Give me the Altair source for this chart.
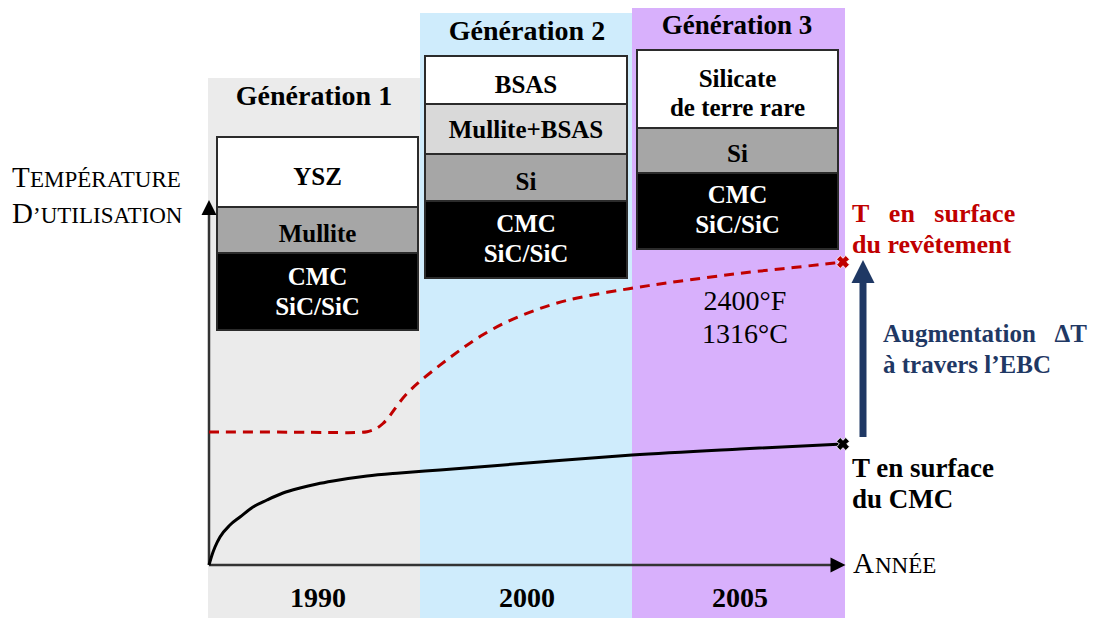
import altair as alt
import pandas as pd

FONT = "Liberation Serif"
NB = "\u00a0"

# ---------------- data ----------------
generations = ["Génération 1", "Génération 2", "Génération 3"]
years = ["1990", "2000", "2005"]
band_colors = ["#ebebeb", "#cfecfc", "#d8b0fc"]

# coating stacks (top -> bottom)
gen1_layers = [["YSZ"], ["Mullite"], ["CMC", "SiC/SiC"]]
gen2_layers = [["BSAS"], ["Mullite+BSAS"], ["Si"], ["CMC", "SiC/SiC"]]
gen3_layers = [["Silicate", "de terre rare"], ["Si"], ["CMC", "SiC/SiC"]]
layer_fill = {"YSZ": "#ffffff", "BSAS": "#ffffff", "Silicate": "#ffffff",
              "Mullite": "#a6a6a6", "Mullite+BSAS": "#d9d9d9", "Si": "#a6a6a6",
              "CMC": "#000000"}

# temperature curves (schematic)
cmc_x = [209, 212, 215, 220, 230, 240, 253, 267, 283, 300, 317, 333, 367, 400, 440, 540, 632, 740, 843]
cmc_y = [565, 555, 547, 537, 525, 517, 507, 500, 493, 488, 484, 481, 476, 473, 470, 462, 455, 449, 444]
ebc_x = [209, 300, 355, 368, 376, 383, 390, 398, 408, 420, 440, 460, 480, 507, 540, 573, 632, 673, 740, 790, 843]
ebc_y = [432, 432, 433, 432, 429, 424, 416, 404, 392, 381, 365, 350, 336, 321, 308, 298, 288, 282, 273, 268, 262]

temp_F = "2400°F"
temp_C = "1316°C"

# ---------------- layout ----------------
band_x = [(208, 420), (420, 632), (632, 845)]
band_top = [78, 13, 2]
title_pos = [(314, 105), (527, 40), (737, 34)]
title_fs = [28, 28, 27]
year_pos = [(318, 607), (527, 607), (740, 607)]
box_x = [(217, 418), (425, 627), (637, 838)]
box_edges = [[137, 207, 253, 330], [56, 104, 154, 201, 278], [50, 128, 173, 249]]
box_text_y = [[[185], [242], [285, 315]],
              [[93], [138], [190], [232, 262]],
              [[87, 116], [162], [203, 233]]]

X = alt.Scale(domain=[8, 1090], nice=False, zero=False)
Y = alt.Scale(domain=[8, 618], reverse=True, nice=False, zero=False)


def xq(f):
    return alt.X(f"{f}:Q", scale=X, axis=None)


def yq(f):
    return alt.Y(f"{f}:Q", scale=Y, axis=None)


# bands
bands = pd.DataFrame({
    "x0": [b[0] for b in band_x], "x1": [b[1] for b in band_x],
    "y0": band_top, "y1": [626] * 3, "fill": band_colors})
band_layer = alt.Chart(bands).mark_rect().encode(
    x=xq("x0"), x2="x1", y=yq("y0"), y2="y1", color=alt.Color("fill:N", scale=None))

# boxes + box text
rects, btexts = [], []
for g, layers in enumerate([gen1_layers, gen2_layers, gen3_layers]):
    x0, x1 = box_x[g]
    edges = box_edges[g]
    for i, lines in enumerate(layers):
        fill = layer_fill[lines[0]]
        rects.append({"x0": x0, "x1": x1, "y0": edges[i], "y1": edges[i + 1], "fill": fill})
        tcol = "#ffffff" if fill == "#000000" else "#000000"
        for ln, ty in zip(lines, box_text_y[g][i]):
            btexts.append({"x": (x0 + x1) / 2, "y": ty, "label": ln, "fs": 25, "col": tcol})

box_layer = alt.Chart(pd.DataFrame(rects)).mark_rect(stroke="#2b2b2b", strokeWidth=2).encode(
    x=xq("x0"), x2="x1", y=yq("y0"), y2="y1", color=alt.Color("fill:N", scale=None))

for g in range(3):
    btexts.append({"x": title_pos[g][0], "y": title_pos[g][1], "label": generations[g], "fs": title_fs[g], "col": "#000000"})
    btexts.append({"x": year_pos[g][0], "y": year_pos[g][1], "label": years[g], "fs": 28, "col": "#000000"})

bold_center = alt.Chart(pd.DataFrame(btexts)).mark_text(
    font=FONT, fontWeight="bold", align="center", baseline="alphabetic").encode(
    x=xq("x"), y=yq("y"), text="label:N",
    size=alt.Size("fs:Q", scale=None), color=alt.Color("col:N", scale=None))

# axes
axis_rules = pd.DataFrame({"x": [209, 209], "x2": [209, 832], "y": [565, 565], "y2": [213, 565]})
axis_layer = alt.Chart(axis_rules).mark_rule(color="#333333", strokeWidth=2.5).encode(
    x=xq("x"), x2="x2", y=yq("y"), y2="y2")
up_head = alt.Chart(pd.DataFrame({"x": [209], "y": [207.5]})).mark_point(
    shape="M0,-1L1,1L-1,1Z", size=225, filled=True, opacity=1, color="#000000").encode(x=xq("x"), y=yq("y"))
right_head = alt.Chart(pd.DataFrame({"x": [838], "y": [565]})).mark_point(
    shape="M1,0L-1,-1L-1,1Z", size=225, filled=True, opacity=1, color="#000000").encode(x=xq("x"), y=yq("y"))

# curves
cmc_df = pd.DataFrame({"x": cmc_x, "y": cmc_y})
ebc_df = pd.DataFrame({"x": ebc_x, "y": ebc_y})
cmc_line = alt.Chart(cmc_df).mark_line(color="#000000", strokeWidth=3, interpolate="monotone").encode(
    x=xq("x"), y=yq("y"))
ebc_line = alt.Chart(ebc_df).mark_line(color="#c00000", strokeWidth=3, strokeDash=[10, 7],
                                       interpolate="basis").encode(x=xq("x"), y=yq("y"))
ends = pd.DataFrame({"x": [cmc_x[-1], ebc_x[-1]], "y": [cmc_y[-1], ebc_y[-1]], "col": ["#000000", "#c00000"]})
end_marks = alt.Chart(ends).mark_point(shape="cross", angle=45, size=170, filled=True, opacity=1,
                                       stroke="#ffffff", strokeWidth=0.8).encode(
    x=xq("x"), y=yq("y"), fill=alt.Color("col:N", scale=None))

# delta-T arrow
shaft = alt.Chart(pd.DataFrame({"x": [863], "y": [437], "y2": [280]})).mark_rule(
    color="#1f3864", strokeWidth=7).encode(x=xq("x"), y=yq("y"), y2="y2")
head = alt.Chart(pd.DataFrame({"x": [863], "y": [271.5]})).mark_point(
    shape="M0,-1L1,1L-1,1Z", size=529, filled=True, opacity=1, color="#1f3864").encode(x=xq("x"), y=yq("y"))

# left-aligned bold labels
bl = pd.DataFrame([
    {"x": 852, "y": 222, "label": f"T{NB}{NB} en{NB}{NB} surface", "fs": 26, "col": "#c00000"},
    {"x": 852, "y": 253, "label": "du revêtement", "fs": 26, "col": "#c00000"},
    {"x": 883, "y": 342, "label": f"Augmentation{NB}{NB} ΔT", "fs": 25, "col": "#1f3864"},
    {"x": 883, "y": 373, "label": "à travers l’EBC", "fs": 25, "col": "#1f3864"},
    {"x": 852, "y": 477, "label": "T en surface", "fs": 27, "col": "#000000"},
    {"x": 852, "y": 508, "label": "du CMC", "fs": 27, "col": "#000000"},
])
bold_left = alt.Chart(bl).mark_text(font=FONT, fontWeight="bold", align="left", baseline="alphabetic").encode(
    x=xq("x"), y=yq("y"), text="label:N", size=alt.Size("fs:Q", scale=None), color=alt.Color("col:N", scale=None))

# regular labels (small caps built from two sizes)
rl = pd.DataFrame([
    {"x": 12, "y": 187, "label": "T", "fs": 29},
    {"x": 30, "y": 187, "label": "EMPÉRATURE", "fs": 23},
    {"x": 12, "y": 223, "label": "D", "fs": 29},
    {"x": 33, "y": 223, "label": "’UTILISATION", "fs": 23},
    {"x": 853, "y": 573, "label": "A", "fs": 29},
    {"x": 875, "y": 573, "label": "NNÉE", "fs": 23},
])
reg_left = alt.Chart(rl).mark_text(font=FONT, align="left", baseline="alphabetic", color="#000000").encode(
    x=xq("x"), y=yq("y"), text="label:N", size=alt.Size("fs:Q", scale=None))

rc = pd.DataFrame([
    {"x": 745, "y": 310, "label": temp_F, "fs": 28},
    {"x": 745, "y": 343, "label": temp_C, "fs": 28},
])
reg_center = alt.Chart(rc).mark_text(font=FONT, align="center", baseline="alphabetic", color="#000000").encode(
    x=xq("x"), y=yq("y"), text="label:N", size=alt.Size("fs:Q", scale=None))

chart = alt.layer(
    band_layer, box_layer, bold_center, axis_layer, up_head, right_head,
    cmc_line, ebc_line, end_marks, shaft, head, bold_left, reg_left, reg_center
).properties(
    width=1082, height=610, padding=0, autosize=alt.AutoSizeParams(type="none"), background="#ffffff"
).configure_view(stroke=None)

chart.save("out.html", embed_options={"renderer": "svg", "actions": False})
